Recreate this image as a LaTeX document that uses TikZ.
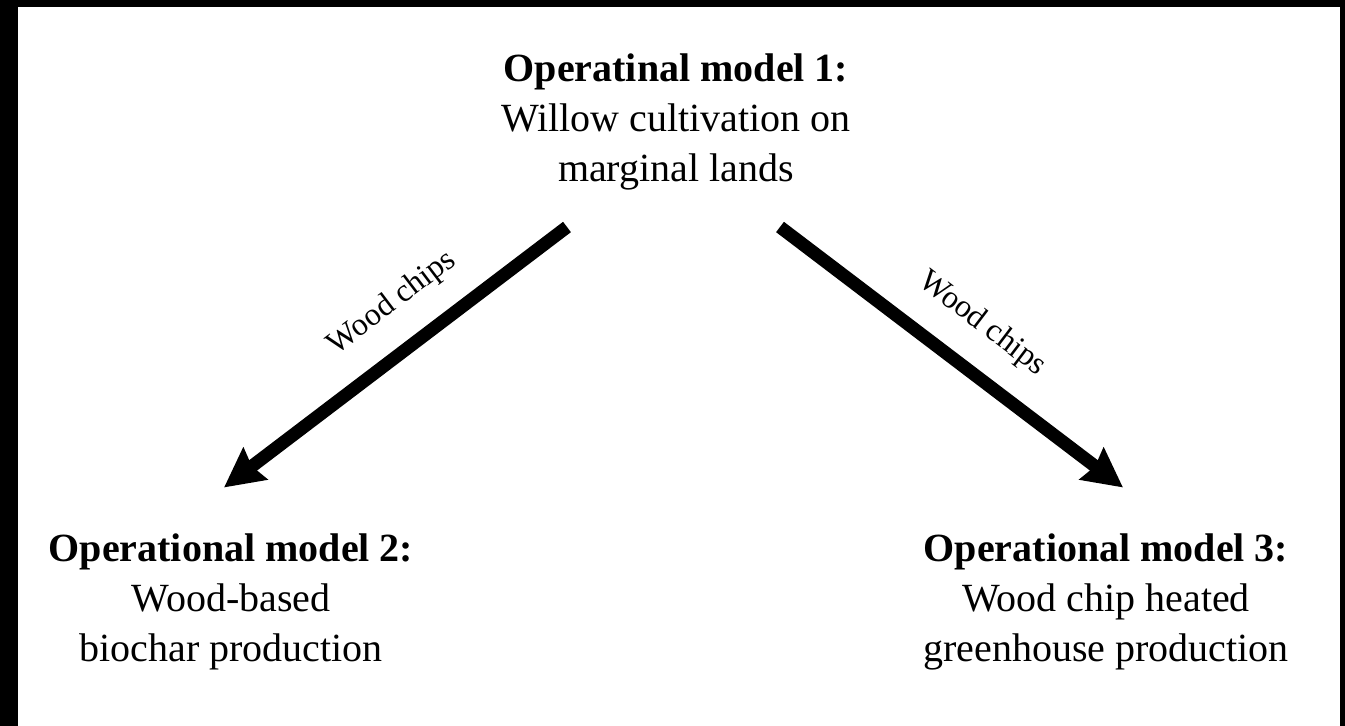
\documentclass[tikz,border=0pt]{standalone}
\usepackage{fontspec}
\setmainfont{Liberation Serif}
\usetikzlibrary{arrows.meta, positioning}

\tikzset{
  model/.style={align=center, inner sep=0pt, font=\fontsize{20pt}{25pt}\selectfont},
  flow/.style={-{Stealth[length=19.5pt, width=19.5pt, inset=2pt]}, line width=6.5pt},
  chips/.style={sloped, above=12pt, inner sep=0pt, font=\fontsize{16pt}{19pt}\selectfont}
}

\begin{document}
\begin{tikzpicture}[x=0.5pt, y=0.5pt]

    % frame
    \fill[black] (0,0) rectangle (1345,726);
    \fill[white] (18,0) rectangle (1340,719);
    \useasboundingbox (0,0) rectangle (1345,726);

    % operational models (base = last line)
    \node[model, anchor=base] (model1) at (676,544) {\textbf{Operatinal model 1:}\\Willow cultivation on\\marginal lands};
    \node[model, anchor=base] (model2) at (231,64) {\textbf{Operational model 2:}\\Wood-based\\biochar production};
    \node[model, anchor=base] (model3) at (1106,64) {\textbf{Operational model 3:}\\Wood chip heated\\greenhouse production};

    % arrow ends
    \coordinate (from2) at (567,499);
    \coordinate (to2) at (224,238.5);
    \coordinate (from3) at (780,499);
    \coordinate (to3) at (1123,238.5);

    % wood chip flows
    \draw[flow] (from2) -- node[chips, pos=0.43] (chips2) {Wood chips} (to2);
    \draw[flow] (from3) -- node[chips, pos=0.51] (chips3) {Wood chips} (to3);

\end{tikzpicture}
\end{document}
